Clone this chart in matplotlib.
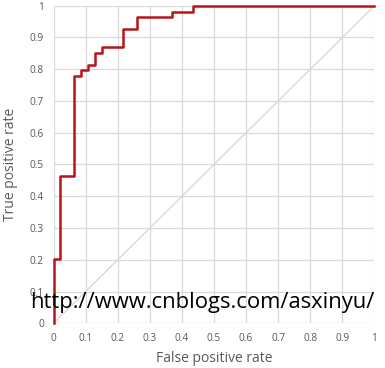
import matplotlib
matplotlib.use("Agg")
import matplotlib.pyplot as plt

# ROC step curve (false positive rate, true positive rate)
fpr = [0.0, 0.0, 0.0217, 0.0217, 0.0652, 0.0652, 0.0870, 0.0870, 0.1087, 0.1087,
       0.1304, 0.1304, 0.1522, 0.1522, 0.2174, 0.2174, 0.2609, 0.2609,
       0.3696, 0.3696, 0.4348, 0.4348, 1.0]
tpr = [0.0, 0.2037, 0.2037, 0.4630, 0.4630, 0.7778, 0.7778, 0.7963, 0.7963, 0.8148,
       0.8148, 0.8519, 0.8519, 0.8704, 0.8704, 0.9259, 0.9259, 0.9630,
       0.9630, 0.9815, 0.9815, 1.0, 1.0]
diag = [0.0, 1.0]
ticks = [0, 0.1, 0.2, 0.3, 0.4, 0.5, 0.6, 0.7, 0.8, 0.9, 1]
tick_labels = ["0", "0.1", "0.2", "0.3", "0.4", "0.5", "0.6", "0.7", "0.8", "0.9", "1"]

plt.rcParams['font.family'] = ['Open Sans', 'DejaVu Sans']
fig = plt.figure(figsize=(3.85, 3.68), dpi=100)
ax = fig.add_axes([0.139, 0.1215, 0.8337, 0.863])

ax.plot(diag, diag, color="#d9d9d9", lw=1.0, zorder=2)
ax.plot(fpr, tpr, color="#b8141c", lw=1.8, zorder=3, clip_on=False)

ax.set_xlim(0, 1)
ax.set_ylim(0, 1)
ax.set_xticks(ticks)
ax.set_yticks(ticks)
ax.set_xticklabels(tick_labels)
ax.set_yticklabels(tick_labels)
ax.tick_params(length=0, labelsize=7.3, labelcolor="#595959", pad=7)
ax.grid(True, color="#d9d9d9", lw=0.9)
ax.set_axisbelow(True)
for s in ax.spines.values():
    s.set_visible(False)

ax.set_xlabel("False positive rate", fontsize=10, color="#595959", labelpad=5)
ax.set_ylabel("True positive rate", fontsize=10, color="#595959", labelpad=8)

fig.text(30 / 385, 1 - 308 / 368, "http://www.cnblogs.com/asxinyu/", fontsize=15.8,
         color="black", ha="left", va="baseline")

fig.savefig("out.png", dpi=100)
